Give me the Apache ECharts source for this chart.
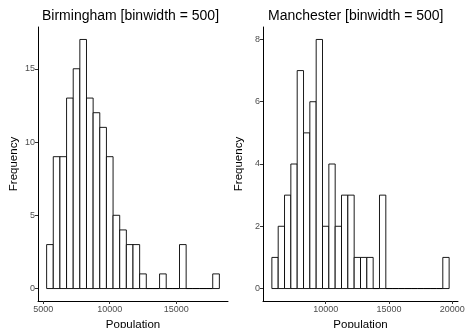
<!DOCTYPE html>
<html>
<head>
<meta charset="utf-8">
<script src="https://cdn.jsdelivr.net/npm/echarts@6/dist/echarts.min.js"></script>
<style>
html, body { margin: 0; padding: 0; background: #fff; }
#container { width: 466px; height: 328px; }
</style>
</head>
<body>
<div id="container"></div>
<script>
// histogram counts, bins of 500
var binWidth = 500;
var bhamStart = 5250;
var bhamCounts = [3, 9, 9, 13, 15, 17, 13, 12, 11, 9, 5, 4, 3, 3, 1, 0, 0, 1, 0, 0, 3, 0, 0, 0, 0, 1];
var manStart = 5750;
var manCounts = [1, 2, 3, 4, 7, 5, 6, 8, 2, 4, 2, 3, 3, 1, 1, 1, 0, 3, 0, 0, 0, 0, 0, 0, 0, 0, 0, 1];

var bhamXTicks = [5000, 10000, 15000];
var bhamYTicks = [0, 5, 10, 15];
var manXTicks = [10000, 15000, 20000];
var manYTicks = [0, 2, 4, 6, 8];

var titles = ['Birmingham [binwidth = 500]', 'Manchester [binwidth = 500]'];

function toBins(start, counts) {
	var arr = [];
	for (var i = 0; i < counts.length; ++i)
		arr.push([start + i * binWidth, start + (i + 1) * binWidth, counts[i]]);
	return arr;
}

// ggplot style 5% expansion
function expand(lo, hi) {
	var e = (hi - lo) * 0.05;
	return [lo - e, hi + e];
}

var font = 'Liberation Sans, Arial, sans-serif';

function renderBar(params, api) {
	var p0 = api.coord([api.value(0), api.value(2)]);
	var p1 = api.coord([api.value(1), 0]);
	return {
		type: 'rect',
		shape: { x: p0[0], y: p0[1], width: p1[0] - p0[0], height: p1[1] - p0[1] },
		style: { fill: '#fff', stroke: '#000', lineWidth: 0.9 }
	};
}

function plain(v) { return String(v); }

function xAxisFor(idx, range, ticks) {
	return {
		type: 'value', gridIndex: idx, min: range[0], max: range[1],
		name: 'Population', nameLocation: 'middle', nameGap: 16,
		nameTextStyle: { fontFamily: font, fontSize: 11.5, color: '#000' },
		splitLine: { show: false },
		axisLine: { onZero: false, lineStyle: { color: '#000', width: 1 } },
		axisTick: { length: 3, customValues: ticks, lineStyle: { color: '#333' } },
		axisLabel: { customValues: ticks, formatter: plain, margin: 4, alignMinLabel: 'center', alignMaxLabel: 'center',
			fontFamily: font, fontSize: 9, color: '#4d4d4d' }
	};
}

function yAxisFor(idx, range, ticks) {
	return {
		type: 'value', gridIndex: idx, min: range[0], max: range[1],
		name: 'Frequency', nameLocation: 'middle', nameGap: 18,
		nameTextStyle: { fontFamily: font, fontSize: 11.5, color: '#000' },
		splitLine: { show: false },
		axisLine: { show: true, onZero: false, lineStyle: { color: '#000', width: 1 } },
		axisTick: { show: true, length: 3, customValues: ticks, lineStyle: { color: '#333' } },
		axisLabel: { customValues: ticks, formatter: plain, margin: 3, fontFamily: font, fontSize: 9, color: '#4d4d4d' }
	};
}

var bhamMax = Math.max.apply(null, bhamCounts);
var manMax = Math.max.apply(null, manCounts);

var myChart = echarts.init(document.getElementById('container'));
var option = {
	animation: false,
	backgroundColor: '#fff',
	title: [
		{ text: titles[0], left: 37, top: 4, textStyle: { fontFamily: font, fontSize: 14, fontWeight: 'normal', color: '#000' } },
		{ text: titles[1], left: 263, top: 4, textStyle: { fontFamily: font, fontSize: 14, fontWeight: 'normal', color: '#000' } }
	],
	grid: [
		{ left: 38, top: 27, width: 190, height: 274, outerBoundsMode: 'none' },
		{ left: 263, top: 27, width: 195, height: 274, outerBoundsMode: 'none' }
	],
	xAxis: [
		xAxisFor(0, expand(bhamStart, bhamStart + bhamCounts.length * binWidth), bhamXTicks),
		xAxisFor(1, expand(manStart, manStart + manCounts.length * binWidth), manXTicks)
	],
	yAxis: [
		yAxisFor(0, expand(0, bhamMax), bhamYTicks),
		yAxisFor(1, expand(0, manMax), manYTicks)
	],
	series: [
		{ type: 'custom', xAxisIndex: 0, yAxisIndex: 0, renderItem: renderBar, encode: { x: [0, 1], y: 2 }, data: toBins(bhamStart, bhamCounts) },
		{ type: 'custom', xAxisIndex: 1, yAxisIndex: 1, renderItem: renderBar, encode: { x: [0, 1], y: 2 }, data: toBins(manStart, manCounts) }
	]
};
myChart.setOption(option);
</script>
</body>
</html>
